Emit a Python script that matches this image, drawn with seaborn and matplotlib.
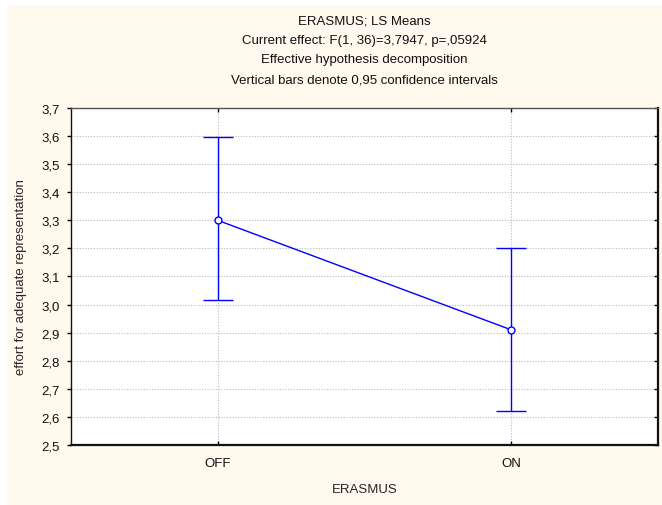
import numpy as np
import pandas as pd
import matplotlib
matplotlib.use("Agg")
import matplotlib.pyplot as plt
import seaborn as sns
from matplotlib.patches import Rectangle
from matplotlib.ticker import FixedLocator, FuncFormatter

# ---- data ----
categories = ["OFF", "ON"]
means = [3.30, 2.91]
ci_lower = [3.015, 2.62]
ci_upper = [3.595, 3.20]
y_ticks = [2.5, 2.6, 2.7, 2.8, 2.9, 3.0, 3.1, 3.2, 3.3, 3.4, 3.5, 3.6, 3.7]
title_lines = ["ERASMUS; LS Means",
               "Current effect: F(1, 36)=3,7947, p=,05924",
               "Effective hypothesis decomposition",
               "Vertical bars denote 0,95 confidence intervals"]
x_label = "ERASMUS"
y_label = "effort for adequate representation"

sns.set_style("white")
plt.rcParams['font.family'] = ['Liberation Sans', 'DejaVu Sans']

W, H = 662, 506
fs = 9.5
fig = plt.figure(figsize=(W / 100, H / 100), dpi=100, facecolor="white")
cream = "#FFF9EE"
fig.patches.append(Rectangle((7 / W, 0), 1 - 7 / W, 1 - 6 / H,
                             transform=fig.transFigure, facecolor=cream,
                             edgecolor="none", zorder=-10))

ax = fig.add_axes([71 / W, 1 - 446 / H, (658 - 71) / W, (446 - 109) / H])
ax.set_facecolor("white")

df = pd.DataFrame({"cat": categories, "mean": means})
blue = "#0000FF"

xpos = np.arange(len(categories))
err = [np.array(means) - np.array(ci_lower), np.array(ci_upper) - np.array(means)]
ax.errorbar(xpos, means, yerr=err, fmt="none", ecolor=blue, elinewidth=1.0,
            capsize=10.5, capthick=1.0, zorder=3)
sns.pointplot(data=df, x="cat", y="mean", color=blue, errorbar=None, ax=ax,
              markers="o", linewidth=1.0, markersize=5,
              markerfacecolor="white", markeredgecolor=blue,
              markeredgewidth=1.0, zorder=4)

ax.set_xlim(-0.5, 1.5)
ax.set_ylim(2.5, 3.7)
ax.yaxis.set_major_locator(FixedLocator(y_ticks))
ax.yaxis.set_major_formatter(FuncFormatter(lambda v, p: f"{v:.1f}".replace(".", ",")))
ax.set_xticks(xpos)
ax.set_xticklabels(categories)

ax.grid(True, linestyle=(0, (1, 1.5)), color="#BBBBBB", linewidth=0.8)
ax.set_axisbelow(True)

ax.tick_params(axis="both", length=3, width=1, color="black",
               labelsize=fs, labelcolor="#111111")
ax.tick_params(axis="y", which="major", left=True, right=True)
ax.yaxis.set_tick_params(which="major", direction="out", pad=5)
# right ticks inward: draw tick2 lines inward by flipping marker
for t in ax.yaxis.get_major_ticks():
    t.tick2line.set_marker(matplotlib.markers.TICKLEFT)
ax.tick_params(axis="x", direction="in", top=True, bottom=True, pad=9)

for side in ["left"]:
    ax.spines[side].set_color("#111111")
    ax.spines[side].set_linewidth(1.0)
ax.spines["top"].set_color("#555555")
ax.spines["top"].set_linewidth(1.0)
for side in ["right", "bottom"]:
    ax.spines[side].set_color("#111111")
    ax.spines[side].set_linewidth(1.6)
for s in ax.spines.values():
    s.set_visible(True)

ax.set_xlabel(x_label, fontsize=fs, labelpad=10)
ax.set_ylabel(y_label, fontsize=fs, labelpad=10)

cx = (71 + 658) / 2 / W
for i, line in enumerate(title_lines):
    fig.text(cx, 1 - (21 + i * 19.7) / H, line, ha="center", va="center",
             fontsize=fs, color="#111111")

fig.savefig("out.png", dpi=100, facecolor="white")
